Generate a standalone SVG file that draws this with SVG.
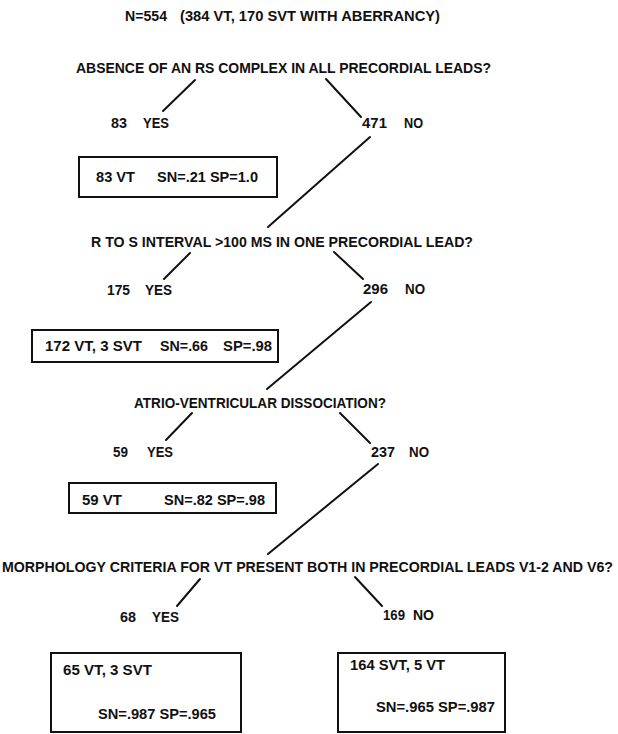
<svg xmlns="http://www.w3.org/2000/svg" width="618" height="734" viewBox="0 0 618 734">
<style>
text{font-family:"Liberation Sans",Arial,sans-serif;font-weight:bold;font-size:15px;fill:#111}
.box{fill:none;stroke:#111;stroke-width:2}
.con line{stroke:#111;stroke-width:2;stroke-linecap:round}
</style>
<rect width="618" height="734" fill="#fff"/>
<g id="title">
<text x="125" y="21" textLength="42" lengthAdjust="spacingAndGlyphs">N=554</text>
<text x="180" y="21" textLength="260" lengthAdjust="spacingAndGlyphs">(384 VT, 170 SVT WITH ABERRANCY)</text>
</g>
<g id="q1"><text x="76" y="73" textLength="415" lengthAdjust="spacingAndGlyphs">ABSENCE OF AN RS COMPLEX IN ALL PRECORDIAL LEADS?</text></g>
<g id="q1-yes"><text x="111" y="128" textLength="16" lengthAdjust="spacingAndGlyphs">83</text><text x="143" y="128" textLength="26" lengthAdjust="spacingAndGlyphs">YES</text></g>
<g id="q1-no"><text x="362" y="128" textLength="25" lengthAdjust="spacingAndGlyphs">471</text><text x="404" y="128" textLength="19" lengthAdjust="spacingAndGlyphs">NO</text></g>
<g id="r1"><rect class="box" x="79" y="157" width="198" height="40"/>
<text x="96" y="182" textLength="39" lengthAdjust="spacingAndGlyphs">83 VT</text>
<text x="157" y="182" textLength="101" lengthAdjust="spacingAndGlyphs">SN=.21 SP=1.0</text></g>
<g id="q2"><text x="91" y="247" textLength="382" lengthAdjust="spacingAndGlyphs">R TO S INTERVAL &gt;100 MS IN ONE PRECORDIAL LEAD?</text></g>
<g id="q2-yes"><text x="107" y="295" textLength="23" lengthAdjust="spacingAndGlyphs">175</text><text x="145" y="295" textLength="27" lengthAdjust="spacingAndGlyphs">YES</text></g>
<g id="q2-no"><text x="363" y="294" textLength="25" lengthAdjust="spacingAndGlyphs">296</text><text x="405" y="294" textLength="20" lengthAdjust="spacingAndGlyphs">NO</text></g>
<g id="r2"><rect class="box" x="32" y="330" width="246" height="32"/>
<text x="45" y="351" textLength="97" lengthAdjust="spacingAndGlyphs">172 VT, 3 SVT</text>
<text x="160" y="351" textLength="48" lengthAdjust="spacingAndGlyphs">SN=.66</text>
<text x="223" y="351" textLength="49" lengthAdjust="spacingAndGlyphs">SP=.98</text></g>
<g id="q3"><text x="134" y="408" textLength="252" lengthAdjust="spacingAndGlyphs">ATRIO-VENTRICULAR DISSOCIATION?</text></g>
<g id="q3-yes"><text x="113" y="457" textLength="15" lengthAdjust="spacingAndGlyphs">59</text><text x="147" y="457" textLength="26" lengthAdjust="spacingAndGlyphs">YES</text></g>
<g id="q3-no"><text x="371" y="457" textLength="24" lengthAdjust="spacingAndGlyphs">237</text><text x="409" y="457" textLength="20" lengthAdjust="spacingAndGlyphs">NO</text></g>
<g id="r3"><rect class="box" x="69" y="483" width="207" height="30"/>
<text x="82" y="505" textLength="40" lengthAdjust="spacingAndGlyphs">59 VT</text>
<text x="164" y="505" textLength="101" lengthAdjust="spacingAndGlyphs">SN=.82 SP=.98</text></g>
<g id="q4"><text x="2" y="572" style="font-size:14px" textLength="611" lengthAdjust="spacingAndGlyphs">MORPHOLOGY CRITERIA FOR VT PRESENT BOTH IN PRECORDIAL LEADS V1-2 AND V6?</text></g>
<g id="q4-yes"><text x="120" y="622" textLength="16" lengthAdjust="spacingAndGlyphs">68</text><text x="152" y="622" textLength="27" lengthAdjust="spacingAndGlyphs">YES</text></g>
<g id="q4-no"><text x="383" y="620" textLength="22" lengthAdjust="spacingAndGlyphs">169</text><text x="413" y="620" textLength="21" lengthAdjust="spacingAndGlyphs">NO</text></g>
<g id="r4"><rect class="box" x="51" y="653" width="190" height="79"/>
<text x="63" y="675" textLength="89" lengthAdjust="spacingAndGlyphs">65 VT, 3 SVT</text>
<text x="98" y="719" textLength="118" lengthAdjust="spacingAndGlyphs">SN=.987 SP=.965</text></g>
<g id="r5"><rect class="box" x="338" y="653" width="167" height="79"/>
<text x="350" y="670" textLength="95" lengthAdjust="spacingAndGlyphs">164 SVT, 5 VT</text>
<text x="376" y="712" textLength="119" lengthAdjust="spacingAndGlyphs">SN=.965 SP=.987</text></g>
<g id="connectors" class="con">
<line x1="195" y1="80" x2="163" y2="111"/>
<line x1="326" y1="79" x2="361" y2="117"/>
<line x1="370" y1="137" x2="268" y2="227"/>
<line x1="190" y1="253" x2="164" y2="279"/>
<line x1="334" y1="252" x2="363" y2="279"/>
<line x1="371" y1="302" x2="267" y2="389"/>
<line x1="192" y1="413" x2="166" y2="440"/>
<line x1="340" y1="413" x2="370" y2="443"/>
<line x1="378" y1="464" x2="268" y2="554"/>
<line x1="200" y1="579" x2="177" y2="606"/>
<line x1="355" y1="577" x2="382" y2="606"/>
</g>
</svg>
